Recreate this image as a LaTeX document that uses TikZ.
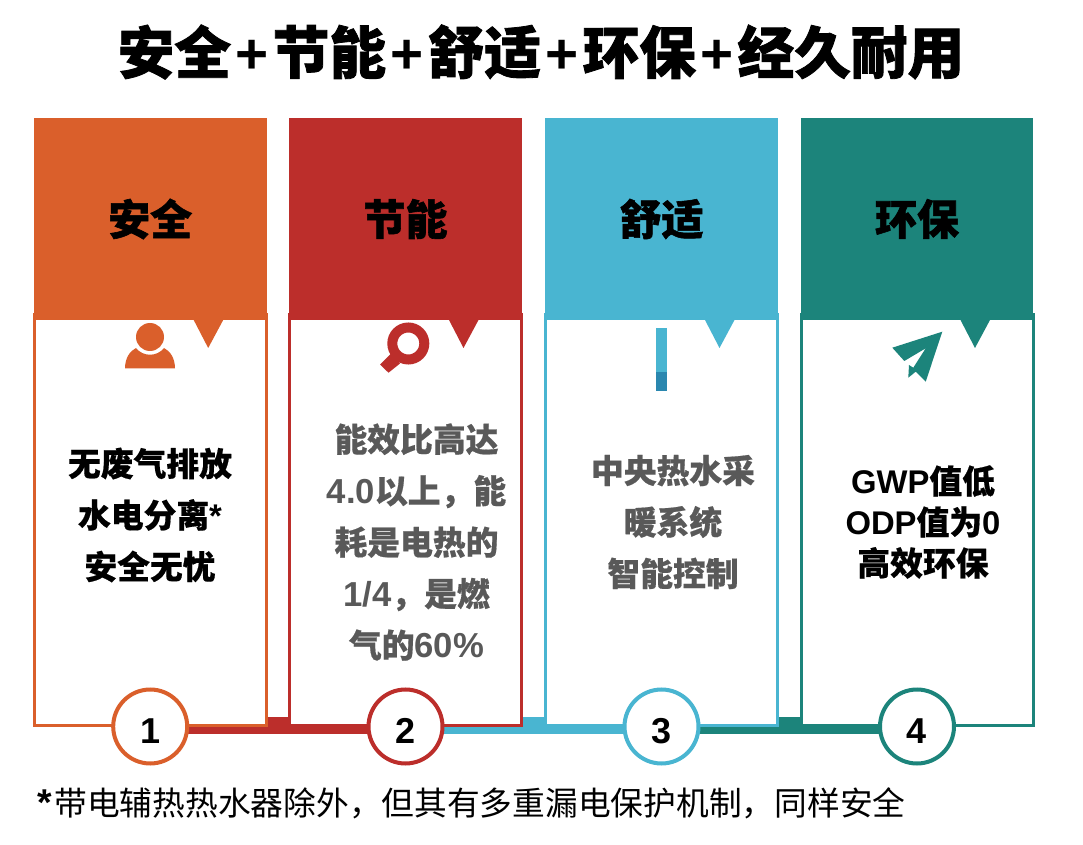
\documentclass[tikz,border=0pt]{standalone}
\usepackage{fontspec}
\setmainfont{Noto Sans CJK SC}
\newfontfamily\arialfont{Liberation Sans}
\newfontfamily\heavyfont{Noto Sans CJK SC}[BoldFeatures={FakeBold=1.4}]
\newfontfamily\bodyfont{Noto Sans CJK SC}[BoldFeatures={FakeBold=0.5}]
\usetikzlibrary{backgrounds}
\definecolor{safecol}{HTML}{DA5F2B}
\definecolor{savecol}{HTML}{BC2E2B}
\definecolor{comfycol}{HTML}{49B5D1}
\definecolor{greencol}{HTML}{1C847B}
\definecolor{bardark}{HTML}{2A87AF}
\definecolor{greytext}{HTML}{595959}
\newcommand{\lat}[1]{{\arialfont\bfseries #1}}
\newcommand{\tplus}{\hspace{3.2pt}{\arialfont\bfseries +}\hspace{3.2pt}}
\tikzset{
  headbox/.style={minimum width=174.5pt,minimum height=151.5pt,inner sep=0pt,font=\heavyfont\bfseries\fontsize{31.5}{36}\selectfont},
  framebox/.style={draw,line width=2.25pt,fill=white,minimum width=174pt,minimum height=307.5pt,inner sep=0pt},
  numcircle/.style={circle,draw,line width=3pt,fill=white,minimum size=55.5pt,inner sep=0pt,font=\arialfont\bfseries\fontsize{27}{30}\selectfont},
  bodytext/.style={align=center,inner sep=0pt,font=\bodyfont\bfseries\fontsize{24.6}{38.6}\selectfont},
  linkbar/.style={line width=6pt}
}
\begin{document}
\begin{tikzpicture}[x=0.75pt,y=-0.75pt]
\useasboundingbox (0,0) rectangle (1083,845);
\node (title) at (541,52) {\heavyfont\bfseries\fontsize{42.5}{48}\selectfont 安全\tplus 节能\tplus 舒适\tplus 环保\tplus 经久耐用};
\foreach \i/\x/\col/\txt in {1/150.2/safecol/安全,2/405.5/savecol/节能,3/661.5/comfycol/舒适,4/917/greencol/环保} {
  \node[framebox,draw=\col] (box\i) at (\x,520) {};
  \node[headbox,fill=\col] (head\i) at (\x,219) {\txt};
  \fill[\col] (\x+43.5,320) -- (\x+58,348) -- (\x+73,320) -- cycle;
  \node[numcircle,draw=\col] (num\i) at (\x,726.5) {\raisebox{-13pt}[0pt][0pt]{\i}};
}
% links between the numbers
\begin{scope}[on background layer]
\foreach \a/\b/\col in {1/2/savecol,2/3/comfycol,3/4/greencol} {
  \draw[linkbar,\col] ([yshift=-2.7pt]num\a.center) -- ([yshift=-2.7pt]num\b.center);
  \fill[\col] ([yshift=7pt]box\a.south east) rectangle ([yshift=-5.5pt]box\b.south west);
}
\end{scope}
% icons
\fill[safecol] (150,337) circle (14);
\fill[safecol] (125,368.5) .. controls (125,358) and (130,351) .. (136,348) .. controls (143,357) and (157,357) .. (164,348) .. controls (170,351) and (175,358) .. (175,368.5) -- cycle;
\draw[savecol,line width=7.5pt] (408.3,343.5) circle (16);
\fill[savecol] (391,353.5) -- (400,363.5) -- (388.5,372.7) -- (380,364.5) -- cycle;
\fill[comfycol] (655.7,328) rectangle (667,372);
\fill[bardark] (655.7,372) rectangle (667,391);
\fill[greencol] (942.3,331.7) -- (892.3,347.7) -- (904.3,361) -- (925.7,348.3) -- (913.3,367.7) -- (909,365) -- (908.3,377.7) -- (915.7,371.7) -- (925.7,381.7) -- cycle;
% texts
\node[bodytext] (text1) at (150,515) {无废气排放\\水电分离\lat{*}\\安全无忧};
\node[bodytext,text=greytext] (text2) at (416.5,542) {能效比高达\\{\fontsize{26}{38.6}\selectfont\lat{4.0}}以上，能\\耗是电热的\\{\fontsize{26}{38.6}\selectfont\lat{1/4}}，是燃\\气的{\fontsize{26}{38.6}\selectfont\lat{60\%}}};
\node[bodytext,text=greytext] (text3) at (673,522) {中央热水采\\暖系统\\智能控制};
\node[bodytext,font=\bodyfont\bfseries\fontsize{24.6}{30.75}\selectfont] (text4) at (923,522) {\lat{GWP}值低\\\lat{ODP}值为\lat{0}\\高效环保};
\node[anchor=west,inner sep=0pt] (note) at (37,803) {\fontsize{24.55}{30}\selectfont{\fontsize{28}{30}\selectfont\lat{*}}\hspace{2pt}带电辅热热水器除外，但其有多重漏电保护机制，同样安全};
\end{tikzpicture}
\end{document}
